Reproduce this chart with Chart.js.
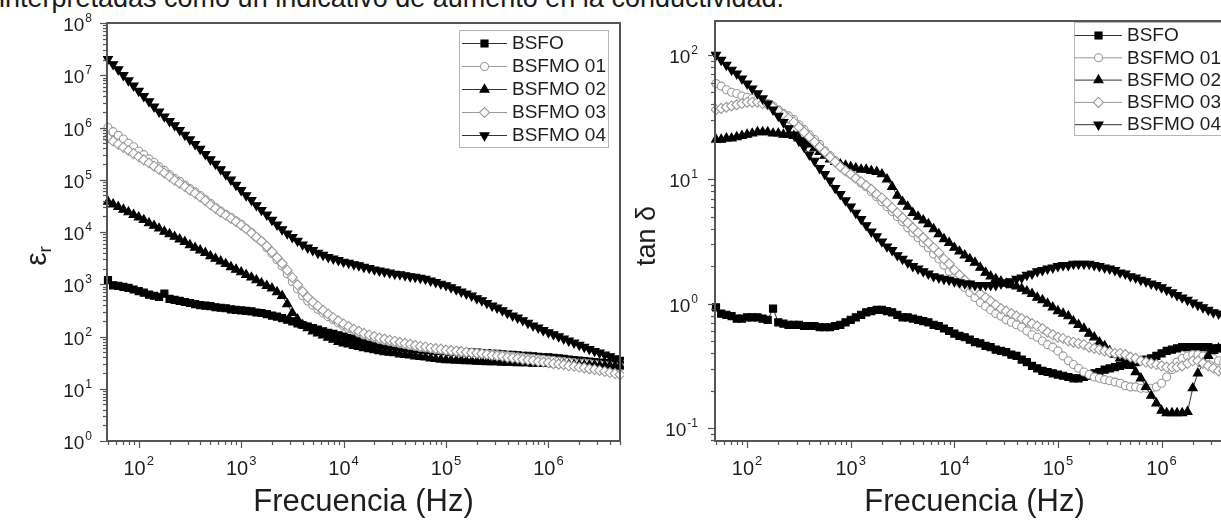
<!DOCTYPE html>
<html><head><meta charset="utf-8">
<script src="https://cdn.jsdelivr.net/npm/chart.js@4.4.1/dist/chart.umd.min.js"></script>
<style>
html,body{margin:0;padding:0;background:#fff;width:1221px;height:520px;overflow:hidden;position:relative;}
#topline{position:absolute;left:-1px;top:-15px;font:27px/27px "Liberation Sans",Arial,sans-serif;color:#1a1a1a;white-space:nowrap;}
#c1{position:absolute;left:0;top:0;}
#c2{position:absolute;left:620px;top:0;}
</style></head><body>
<div id="topline">interpretadas como un indicativo de aumento en la conductividad.</div>
<canvas id="c1" width="640" height="520"></canvas>
<canvas id="c2" width="640" height="520"></canvas>
<script>
// ---------- DATA ----------
const freq = [50.1,56.2,63.1,70.8,79.4,89.1,
100,112,126,141,158,178,200,224,251,282,316,355,398,447,501,562,631,708,794,891,
1000,1120,1260,1410,1580,1780,2000,2240,2510,2820,3160,3550,3980,4470,5010,5620,6310,7080,7940,8910,
10000,11200,12600,14100,15800,17800,20000,22400,25100,28200,31600,35500,39800,44700,50100,56200,63100,70800,79400,89100,
100000,112000,126000,141000,158000,178000,200000,224000,251000,282000,316000,355000,398000,447000,501000,562000,631000,708000,794000,891000,
1000000,1120000,1260000,1410000,1580000,1780000,2000000,2240000,2510000,2820000,3160000,3550000,3980000,4470000,5010000];

const seriesNames = ['BSFO','BSFMO 01','BSFMO 02','BSFMO 03','BSFMO 04'];

// permittivity (epsilon_r)
const epsBSFO = [1200,955,933,891,851,794,
741,692,631,603,575,661,525,501,479,457,437,417,398,389,380,363,355,347,331,324,
316,309,302,288,282,269,251,240,224,209,195,178,166,155,145,135,126,117,112,105,
100,93.3,89.1,83.2,79.4,75.9,72.4,70.8,67.6,66.1,64.6,61.7,60.3,58.9,57.5,57.5,56.2,55.0,53.7,53.7,
52.5,51.3,51.3,50.1,50.1,49.0,49.0,47.9,47.9,46.8,46.8,45.7,44.7,44.7,43.7,42.7,42.7,41.7,40.7,39.8,
39.8,38.9,38.0,37.2,36.3,35.5,34.7,33.9,33.1,32.4,31.6,30.9,30.2,29.5,28.8];
const epsBSFMO01 = [1.0e6,8.32e5,7.08e5,6.03e5,5.01e5,4.27e5,
3.55e5,3.02e5,2.51e5,2.14e5,1.78e5,1.51e5,1.26e5,1.07e5,9.33e4,7.94e4,6.76e4,5.89e4,5.01e4,4.17e4,3.55e4,2.95e4,2.51e4,2.19e4,1.91e4,1.62e4,
1.41e4,1.17e4,9770,7940,6610,5010,3890,2950,2240,1580,1120,813,603,479,398,331,282,240,209,182,
158,141,129,117,107,100,93.3,87.1,83.2,79.4,75.9,72.4,69.2,66.1,64.6,61.7,60.3,58.9,56.2,55.0,
53.7,52.5,51.3,50.1,50.1,49.0,47.9,46.8,46.8,45.7,44.7,43.7,42.7,41.7,40.7,39.8,38.9,38.0,37.2,36.3,
35.5,34.7,33.9,33.1,32.4,31.6,30.9,30.9,30.2,29.5,28.8,28.2,27.5,26.9,26.3];
const epsBSFMO02 = [3.80e4,3.39e4,3.02e4,2.69e4,2.40e4,2.14e4,
1.91e4,1.70e4,1.48e4,1.32e4,1.17e4,1.02e4,9120,8130,7240,6460,5620,5010,4470,3980,3470,3090,2750,2450,2140,1910,
1700,1510,1350,1200,1050,933,832,708,603,417,282,214,166,145,126,115,105,95.5,87.1,79.4,
74.1,70.8,66.1,63.1,60.3,57.5,55.0,52.5,50.1,49.0,47.9,45.7,44.7,43.7,41.7,40.7,39.8,38.0,37.2,36.3,
35.5,35.5,34.7,34.7,33.9,33.9,33.1,33.1,32.4,32.4,32.4,31.6,31.6,31.6,30.9,30.9,30.9,30.2,30.2,30.2,
30.2,29.5,29.5,29.5,28.8,28.8,28.8,28.2,28.2,28.2,27.5,27.5,27.5,26.9,26.9];
const epsBSFMO03 = [6.31e5,5.50e5,4.79e5,4.17e5,3.63e5,3.16e5,
2.75e5,2.40e5,2.09e5,1.82e5,1.58e5,1.35e5,1.15e5,9.77e4,8.51e4,7.41e4,6.31e4,5.50e4,4.68e4,3.98e4,3.31e4,2.82e4,2.40e4,2.09e4,1.82e4,1.58e4,
1.35e4,1.15e4,9550,7940,6610,5370,4170,3240,2510,1860,1350,977,724,562,457,380,316,269,229,200,
174,155,138,126,115,107,100,93.3,89.1,85.1,81.3,77.6,74.1,70.8,67.6,64.6,63.1,60.3,58.9,57.5,
55.0,53.7,52.5,51.3,50.1,49.0,47.9,46.8,45.7,43.7,42.7,41.7,39.8,38.9,38.0,36.3,35.5,34.7,33.1,32.4,
31.6,30.2,29.5,28.8,27.5,26.9,25.7,25.1,24.0,23.4,22.4,21.4,20.4,19.5,18.6];
const epsBSFMO04 = [2.04e7,1.62e7,1.29e7,1.0e7,7.94e6,6.31e6,
5.01e6,3.98e6,3.16e6,2.51e6,2.0e6,1.62e6,1.32e6,1.10e6,8.91e5,7.24e5,5.89e5,4.79e5,3.89e5,3.09e5,2.45e5,2.0e5,1.58e5,1.26e5,1.0e5,7.94e4,
6.31e4,5.01e4,4.07e4,3.24e4,2.63e4,2.14e4,1.70e4,1.38e4,1.12e4,9330,7940,6760,5750,5010,4470,3980,3630,3310,3090,2880,
2690,2570,2400,2290,2140,2040,1910,1820,1740,1660,1580,1550,1480,1410,1380,1320,1260,1170,1100,1020,
955,871,794,724,661,603,537,490,437,389,355,316,282,251,229,204,182,162,148,132,
120,110,100,91.2,83.2,75.9,69.2,63.1,57.5,52.5,49.0,44.7,41.7,38.0,35.5];

// loss tangent (tan delta)
const tanBSFO = [0.933,0.832,0.813,0.794,0.759,0.759,
0.776,0.776,0.776,0.759,0.741,0.912,0.708,0.692,0.676,0.676,0.676,0.661,0.661,0.661,0.646,0.646,0.646,0.661,0.676,0.708,
0.741,0.776,0.813,0.851,0.871,0.891,0.891,0.871,0.851,0.813,0.776,0.776,0.759,0.741,0.724,0.708,0.676,0.661,0.631,0.603,
0.575,0.550,0.537,0.513,0.490,0.479,0.457,0.447,0.427,0.417,0.407,0.389,0.380,0.355,0.339,0.316,0.302,0.288,0.282,0.275,
0.269,0.263,0.257,0.251,0.251,0.257,0.263,0.275,0.282,0.295,0.302,0.309,0.316,0.324,0.331,0.339,0.347,0.355,0.363,0.380,
0.398,0.417,0.427,0.437,0.447,0.447,0.447,0.447,0.447,0.447,0.437,0.437,0.437,0.427,0.427];
const tanBSFMO01 = [58.9,56.2,52.5,50.1,49.0,46.8,
45.7,44.7,43.7,41.7,40.7,38.9,36.3,33.9,32.4,30.2,27.5,25.1,22.9,20.9,19.1,17.0,15.5,14.1,12.9,11.7,
11.0,10.2,9.33,8.71,7.94,7.24,6.61,6.03,5.50,5.01,4.57,4.07,3.72,3.39,3.09,2.82,2.51,2.29,2.04,1.82,
1.62,1.48,1.35,1.23,1.12,1.02,0.955,0.891,0.832,0.794,0.741,0.708,0.676,0.646,0.603,0.562,0.537,0.501,0.468,0.447,
0.417,0.380,0.347,0.324,0.302,0.282,0.269,0.257,0.251,0.245,0.240,0.234,0.229,0.219,0.214,0.214,0.209,0.209,0.209,0.214,
0.229,0.257,0.295,0.339,0.363,0.380,0.389,0.389,0.380,0.372,0.363,0.347,0.339,0.324,0.316];
const tanBSFMO02 = [20.9,20.9,21.4,21.4,21.9,22.4,
22.9,23.4,24.0,24.0,24.0,23.4,23.4,22.9,22.9,22.4,21.4,20.4,19.1,17.8,16.6,15.5,14.5,13.8,13.2,12.9,
12.6,12.3,12.0,12.0,11.7,11.5,11.0,10.0,8.71,7.41,6.61,6.03,5.37,5.01,4.68,4.37,3.98,3.63,3.31,3.09,
2.82,2.63,2.45,2.29,2.14,1.95,1.78,1.66,1.58,1.51,1.45,1.41,1.38,1.32,1.26,1.20,1.12,1.07,1.0,0.933,
0.871,0.832,0.794,0.724,0.676,0.631,0.575,0.537,0.490,0.457,0.417,0.389,0.363,0.339,0.316,0.282,0.251,0.214,0.182,0.158,
0.138,0.132,0.132,0.132,0.132,0.135,0.209,0.275,0.331,0.380,0.417,0.437,0.457,0.479,0.501];
const tanBSFMO03 = [36.3,37.2,38.0,38.9,39.8,40.7,
41.7,41.7,41.7,40.7,39.8,38.0,35.5,33.1,30.9,28.8,26.3,24.0,21.9,20.0,18.2,16.6,15.1,13.8,12.6,11.7,
11.0,10.2,9.55,8.91,8.32,7.59,7.08,6.46,5.89,5.37,4.90,4.47,4.07,3.72,3.39,3.09,2.82,2.57,2.29,2.09,
1.86,1.70,1.55,1.41,1.29,1.20,1.12,1.05,0.977,0.912,0.871,0.832,0.794,0.759,0.724,0.692,0.661,0.631,0.589,0.562,
0.537,0.525,0.501,0.490,0.479,0.468,0.447,0.437,0.427,0.417,0.407,0.398,0.398,0.389,0.372,0.363,0.347,0.339,0.331,0.324,
0.316,0.309,0.309,0.309,0.316,0.331,0.347,0.347,0.331,0.316,0.302,0.288,0.288,0.282,0.282];
const tanBSFMO04 = [100,91.2,83.2,75.9,70.8,64.6,
58.9,53.7,49.0,44.7,40.7,36.3,32.4,28.8,25.7,22.9,20.4,18.2,15.8,14.1,12.3,11.0,9.77,8.51,7.59,6.76,
6.03,5.37,4.79,4.27,3.80,3.47,3.16,2.88,2.69,2.45,2.29,2.14,2.0,1.91,1.82,1.74,1.66,1.62,1.58,1.55,
1.51,1.48,1.45,1.45,1.41,1.41,1.41,1.41,1.41,1.45,1.48,1.51,1.58,1.62,1.70,1.74,1.82,1.86,1.91,1.95,
2.0,2.04,2.04,2.09,2.09,2.09,2.09,2.04,2.0,1.95,1.91,1.86,1.78,1.74,1.66,1.62,1.55,1.51,1.45,1.41,
1.35,1.29,1.23,1.17,1.12,1.07,1.02,0.977,0.933,0.891,0.851,0.832,0.794,0.759,0.741];

// tick labels
const freqTickValues = [1e2,1e3,1e4,1e5,1e6];
const freqTickExp = ['2','3','4','5','6'];
const epsTickValues = [1,10,100,1e3,1e4,1e5,1e6,1e7,1e8];
const epsTickExp = ['0','1','2','3','4','5','6','7','8'];
const tanTickValues = [0.1,1,10,100];
const tanTickExp = ['-1','0','1','2'];

// ---------- STYLE ----------
const FONT = '"Liberation Sans", Arial, Helvetica, sans-serif';
const GRAY = '#9a9a9a', AXIS = '#555', TEXT = '#1e1e1e';
const marks = [
  {pointStyle:'rect', rotation:0, radius:5, bg:'#000', border:'#000', line:'#333'},
  {pointStyle:'circle', rotation:0, radius:4, bg:'#fff', border:GRAY, line:GRAY},
  {pointStyle:'triangle', rotation:0, radius:5.2, bg:'#000', border:'#000', line:'#333'},
  {pointStyle:'rectRot', rotation:0, radius:5, bg:'#fff', border:GRAY, line:GRAY},
  {pointStyle:'triangle', rotation:180, radius:5.2, bg:'#000', border:'#000', line:'#333'}
];

function makeDatasets(arrs){
  return arrs.map((arr,i)=>({
    label: seriesNames[i],
    data: freq.map((f,k)=>({x:f, y:arr[k]})),
    showLine:true, fill:false, tension:0,
    borderColor: marks[i].line, borderWidth:1,
    pointStyle: marks[i].pointStyle, pointRotation: marks[i].rotation,
    pointRadius: marks[i].radius, pointBackgroundColor: marks[i].bg,
    pointBorderColor: marks[i].border, pointBorderWidth: 1.1,
    order: 5-i, clip: 4
  }));
}

function drawPow(ctx, base, exp, x, y, align, bs, es, raise){
  ctx.font = bs+'px '+FONT; const wb = ctx.measureText(base).width;
  ctx.font = es+'px '+FONT; const we = ctx.measureText(exp).width;
  const tot = wb+we+1;
  const x0 = align==='center' ? x-tot/2 : (align==='right' ? x-tot : x);
  ctx.textAlign='left'; ctx.textBaseline='alphabetic';
  ctx.font = bs+'px '+FONT; ctx.fillText(base, x0, y);
  ctx.font = es+'px '+FONT; ctx.fillText(exp, x0+wb+1, y-raise);
}

function drawMarker(ctx, m, x, y){
  ctx.fillStyle = m.bg; ctx.strokeStyle = m.border; ctx.lineWidth = 1.1;
  Chart.helpers.drawPoint(ctx, {pointStyle:m.pointStyle, rotation:m.rotation, radius:m.radius, borderWidth:1.1}, x, y);
}

const decoPlugin = {
  id:'deco',
  afterDatasetsDraw(chart, args, o){
    const ctx = chart.ctx, a = chart.chartArea, xs = chart.scales.x, ys = chart.scales.y;
    ctx.save();
    ctx.strokeStyle = AXIS; ctx.lineWidth = 2;
    ctx.strokeRect(a.left, a.top, a.right-a.left, a.bottom-a.top);
    ctx.lineWidth = 1.2;
    const logTicks = (scale, isX) => {
      const mn = scale.min, mx = scale.max;
      for (let d=Math.floor(Math.log10(mn)); d<=Math.ceil(Math.log10(mx)); d++){
        for (let m=1;m<=9;m++){
          const v = m*Math.pow(10,d);
          if (v < mn || v > mx) continue;
          const p = Math.round(scale.getPixelForValue(v))+0.5;
          const len = m===1 ? 7 : 4;
          ctx.beginPath();
          if (isX){ ctx.moveTo(p, a.bottom); ctx.lineTo(p, a.bottom+len); }
          else { ctx.moveTo(a.left, p); ctx.lineTo(a.left-len, p); }
          ctx.stroke();
        }
      }
    };
    logTicks(xs, true); logTicks(ys, false);
    ctx.fillStyle = TEXT;
    freqTickValues.forEach((v,i)=>{
      drawPow(ctx, '10', freqTickExp[i], xs.getPixelForValue(v), a.bottom+34, 'center', 20, 13, 10);
    });
    o.yVals.forEach((v,i)=>{
      drawPow(ctx, '10', o.yExp[i], a.left-o.yLabelGap, ys.getPixelForValue(v)+8, 'right', 19, 12, 9);
    });
    ctx.font = '31px '+FONT; ctx.textAlign='center'; ctx.textBaseline='alphabetic';
    ctx.fillText('Frecuencia (Hz)', (a.left+a.right)/2, 511);
    ctx.save();
    ctx.translate(o.yTitleX, o.yTitleY); ctx.rotate(-Math.PI/2);
    if (o.yTitle === 'eps'){
      ctx.font = '30px '+FONT; const w1 = ctx.measureText('\u03b5').width;
      ctx.font = '19px '+FONT; const w2 = ctx.measureText('r').width;
      const x0 = -(w1+w2)/2;
      ctx.textAlign='left';
      ctx.font = '30px '+FONT; ctx.fillText('\u03b5', x0, 0);
      ctx.font = '19px '+FONT; ctx.fillText('r', x0+w1, 5);
    } else {
      ctx.font = '27px '+FONT; ctx.textAlign='center';
      ctx.fillText('tan \u03b4', 0, 0);
    }
    ctx.restore();
    const L = o.legend;
    ctx.fillStyle = '#fff'; ctx.fillRect(L.x, L.y, L.w, L.h);
    ctx.strokeStyle = '#b5b5b5'; ctx.lineWidth = 1;
    ctx.strokeRect(L.x+0.5, L.y+0.5, L.w, L.h);
    chart.data.datasets.forEach((ds,i)=>{
      const y = L.row0 + i*L.rowH;
      ctx.strokeStyle = marks[i].line; ctx.lineWidth = 1;
      ctx.beginPath(); ctx.moveTo(L.l0, y+0.5); ctx.lineTo(L.l1, y+0.5); ctx.stroke();
      drawMarker(ctx, marks[i], (L.l0+L.l1)/2, y+0.5);
      ctx.fillStyle = TEXT; ctx.font = '19px '+FONT; ctx.textAlign='left'; ctx.textBaseline='middle';
      ctx.fillText(ds.label, L.tx, y+1);
    });
    ctx.restore();
  }
};

function makeChart(id, arrs, yMin, yMax, padding, deco){
  return new Chart(document.getElementById(id), {
    type:'line',
    data:{datasets: makeDatasets(arrs)},
    options:{
      responsive:false, animation:false, events:[],
      layout:{padding},
      scales:{
        x:{type:'logarithmic', min:49, max:5.0e6, display:false},
        y:{type:'logarithmic', min:yMin, max:yMax, display:false}
      },
      plugins:{legend:{display:false}, tooltip:{enabled:false}, deco}
    },
    plugins:[decoPlugin]
  });
}

makeChart('c1', [epsBSFO,epsBSFMO01,epsBSFMO02,epsBSFMO03,epsBSFMO04], 1, 1e8,
  {left:107, right:20, top:23, bottom:79},
  {yVals:epsTickValues, yExp:epsTickExp, yLabelGap:15, yTitle:'eps', yTitleX:46, yTitleY:256,
   legend:{x:459, y:30, w:149, h:117, row0:43, rowH:23, l0:462, l1:507, tx:512}});

makeChart('c2', [tanBSFO,tanBSFMO01,tanBSFMO02,tanBSFMO03,tanBSFMO04], 0.0786, 187.7,
  {left:95, right:26, top:21, bottom:79},
  {yVals:tanTickValues, yExp:tanTickExp, yLabelGap:17, yTitle:'tan', yTitleX:35, yTitleY:236,
   legend:{x:454, y:22, w:170, h:113, row0:35, rowH:22.3, l0:455, l1:502, tx:507}});
</script>
</body></html>
